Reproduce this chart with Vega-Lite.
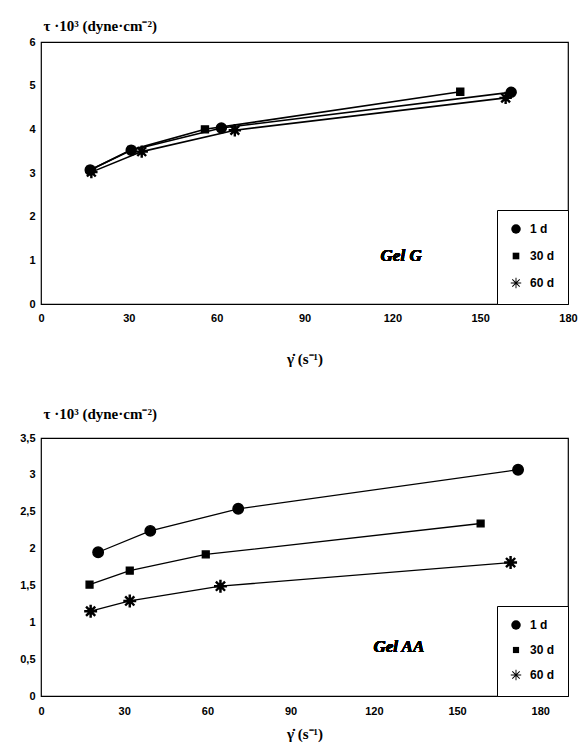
{
  "$schema": "https://vega.github.io/schema/vega-lite/v6.json",
  "background": "white",
  "padding": {"left": 10, "top": 17, "right": 5, "bottom": 2},
  "spacing": 38,
  "resolve": {"scale": {"shape": "independent", "x": "independent", "y": "independent"}, "legend": {"shape": "independent"}},
  "config": {
    "view": {"stroke": "black", "strokeWidth": 1.2},
    "axis": {
      "grid": false, "domain": false, "ticks": false, "tickSize": 0,
      "labelFont": "Liberation Sans", "labelFontWeight": "bold", "labelFontSize": 11,
      "labelColor": "black", "titleColor": "black", "labelFlush": false, "labelOverlap": false
    },
    "axisY": {
      "titleAngle": 0, "titleAlign": "left", "titleBaseline": "middle", "titleX": 2,
      "titleFont": "Liberation Serif", "titleFontSize": 15, "titleFontWeight": "bold"
    },
    "legend": {
      "orient": "bottom-right", "offset": 0, "title": null,
      "strokeColor": "black", "fillColor": "white", "padding": 13, "rowPadding": 13,
      "labelFont": "Liberation Sans", "labelFontWeight": "bold", "labelFontSize": 12, "labelColor": "black",
      "symbolSize": 90, "symbolFillColor": "black", "symbolStrokeColor": "black", "symbolStrokeWidth": 1.2,
      "labelOffset": 8
    }
  },
  "datasets": {
    "gelG": [
      {"series": "1 d", "x": 16.8, "y": 3.07},
      {"series": "1 d", "x": 30.8, "y": 3.52},
      {"series": "1 d", "x": 61.6, "y": 4.03},
      {"series": "1 d", "x": 160.6, "y": 4.85},
      {"series": "30 d", "x": 16.8, "y": 3.07},
      {"series": "30 d", "x": 30.8, "y": 3.53},
      {"series": "30 d", "x": 56.0, "y": 4.0},
      {"series": "30 d", "x": 143.2, "y": 4.86},
      {"series": "60 d", "x": 17.2, "y": 3.02},
      {"series": "60 d", "x": 34.4, "y": 3.49},
      {"series": "60 d", "x": 66.2, "y": 3.98},
      {"series": "60 d", "x": 158.7, "y": 4.72}
    ],
    "gelAA": [
      {"series": "1 d", "x": 20.6, "y": 1.95},
      {"series": "1 d", "x": 39.4, "y": 2.24},
      {"series": "1 d", "x": 71.1, "y": 2.54},
      {"series": "1 d", "x": 172.0, "y": 3.07},
      {"series": "30 d", "x": 17.5, "y": 1.51},
      {"series": "30 d", "x": 32.0, "y": 1.70},
      {"series": "30 d", "x": 59.4, "y": 1.92},
      {"series": "30 d", "x": 158.5, "y": 2.34},
      {"series": "60 d", "x": 17.9, "y": 1.15},
      {"series": "60 d", "x": 32.0, "y": 1.29},
      {"series": "60 d", "x": 64.7, "y": 1.49},
      {"series": "60 d", "x": 169.3, "y": 1.81}
    ]
  },
  "vconcat": [
    {
      "width": 527,
      "height": 262,
      "data": {"name": "gelG"},
      "encoding": {
        "x": {"field": "x", "type": "quantitative", "scale": {"domain": [0, 180], "nice": false},
          "axis": {"values": [0, 30, 60, 90, 120, 150, 180], "title": "γ̇ (s⁻¹)", "titleFont": "Liberation Serif", "titleFontSize": 15, "titleFontWeight": "bold", "labelPadding": 8, "titlePadding": 28}},
        "y": {"field": "y", "type": "quantitative", "scale": {"domain": [0, 6], "nice": false},
          "axis": {"values": [0, 1, 2, 3, 4, 5, 6], "title": "τ ·10³ (dyne·cm⁻²)", "titleY": -17, "labelPadding": 6, "minExtent": 30, "maxExtent": 30}}
      },
      "layer": [
        {"mark": {"type": "line", "color": "black", "strokeWidth": 1.6},
          "encoding": {"detail": {"field": "series"}}},
        {"mark": {"type": "point", "filled": true, "opacity": 1, "stroke": "black", "strokeWidth": 1.4, "size": 100},
          "encoding": {
            "color": {"value": "black"},
            "shape": {"field": "series", "type": "nominal",
              "scale": {"domain": ["1 d", "30 d", "60 d"], "range": ["circle", "M-0.7,-0.7H0.7V0.7H-0.7Z", "M-1.1,-0.1H1.1V0.1H-1.1Z M-0.1,-1.1H0.1V1.1H-0.1Z M-0.71,-0.85L0.85,0.71L0.71,0.85L-0.85,-0.71Z M-0.85,0.71L0.71,-0.85L0.85,-0.71L-0.71,0.85Z"]},
              "legend": {"encode": {"symbols": {"update": {
                "stroke": {"value": "black"}, "strokeWidth": {"value": 1.2}, "fill": {"value": "black"}}}}}}
          }},
        {"mark": {"type": "text", "text": "Gel G", "font": "Liberation Serif", "fontSize": 17, "fontStyle": "italic", "fontWeight": "bold", "color": "black"},
          "encoding": {"x": {"datum": 123}, "y": {"datum": 1.1}}}
      ]
    },
    {
      "width": 527,
      "height": 258,
      "data": {"name": "gelAA"},
      "encoding": {
        "x": {"field": "x", "type": "quantitative", "scale": {"domain": [0, 190], "nice": false},
          "axis": {"values": [0, 30, 60, 90, 120, 150, 180], "title": "γ̇ (s⁻¹)", "titleFont": "Liberation Serif", "titleFontSize": 15, "titleFontWeight": "bold", "labelPadding": 9, "titlePadding": 10}},
        "y": {"field": "y", "type": "quantitative", "scale": {"domain": [0, 3.5], "nice": false},
          "axis": {"values": [0, 0.5, 1, 1.5, 2, 2.5, 3, 3.5], "title": "τ  ·10³ (dyne·cm⁻²)", "titleY": -25, "labelPadding": 6, "minExtent": 30, "maxExtent": 30,
            "labelExpr": "replace(format(datum.value, '.1~f'), '.', ',')"}}
      },
      "layer": [
        {"mark": {"type": "line", "color": "black", "strokeWidth": 1.3},
          "encoding": {"detail": {"field": "series"}}},
        {"mark": {"type": "point", "filled": true, "opacity": 1, "stroke": "black", "strokeWidth": 1.4, "size": 110},
          "encoding": {
            "color": {"value": "black"},
            "shape": {"field": "series", "type": "nominal",
              "scale": {"domain": ["1 d", "30 d", "60 d"], "range": ["circle", "M-0.65,-0.65H0.65V0.65H-0.65Z", "M-1.1,-0.1H1.1V0.1H-1.1Z M-0.1,-1.1H0.1V1.1H-0.1Z M-0.71,-0.85L0.85,0.71L0.71,0.85L-0.85,-0.71Z M-0.85,0.71L0.71,-0.85L0.85,-0.71L-0.71,0.85Z"]},
              "legend": {"rowPadding": 11, "encode": {"symbols": {"update": {
                "stroke": {"value": "black"}, "strokeWidth": {"value": 1.2}, "fill": {"value": "black"}}}}}}
          }},
        {"mark": {"type": "text", "text": "Gel AA", "font": "Liberation Serif", "fontSize": 17, "fontStyle": "italic", "fontWeight": "bold", "color": "black"},
          "encoding": {"x": {"datum": 129}, "y": {"datum": 0.67}}}
      ]
    }
  ]
}
